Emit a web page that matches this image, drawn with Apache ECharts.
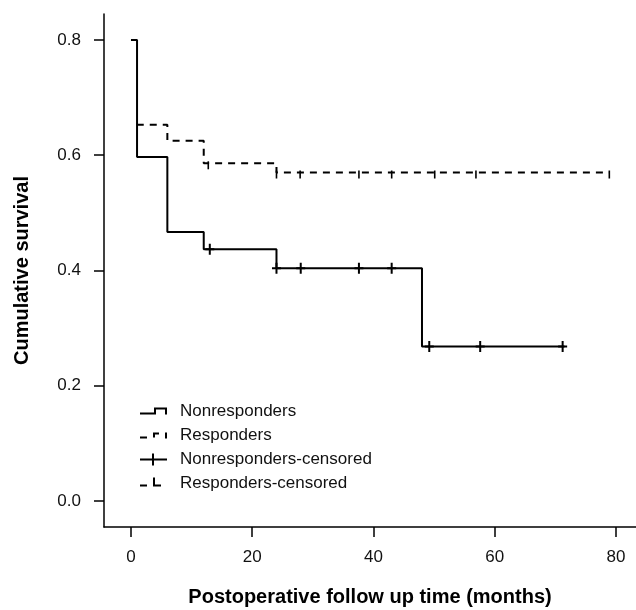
<!DOCTYPE html>
<html><head><meta charset="utf-8">
<script src="https://cdn.jsdelivr.net/npm/echarts@6/dist/echarts.min.js"></script>
<style>html,body{margin:0;padding:0;background:#fff}#c{width:636px;height:610px}</style>
</head><body><div id="c"></div>
<script>
// Kaplan-Meier step points
const nonTime = [0, 1, 6, 12, 24, 48, 71.5];
const nonSurv = [0.8, 0.597, 0.467, 0.437, 0.404, 0.268, 0.268];
const resTime = [0.95, 6, 12, 24, 79];
const resSurv = [0.653, 0.625, 0.586, 0.570, 0.570];
// censored observations
const nonCensTime = [13, 24, 28, 37.6, 43, 49.2, 57.6, 71.2];
const nonCensSurv = [0.437, 0.404, 0.404, 0.404, 0.404, 0.268, 0.268, 0.268];
const resCensTime = [12.75, 24, 27.9, 37.6, 43, 50.1, 56.9, 78.9];
const resCensSurv = [0.586, 0.570, 0.570, 0.570, 0.570, 0.570, 0.570, 0.570];
// axes
const xTicks = [0, 20, 40, 60, 80];
const yTicks = [0, 0.2, 0.4, 0.6, 0.8];
const seriesNames = ['Nonresponders', 'Responders', 'Nonresponders-censored', 'Responders-censored'];
const xTitle = 'Postoperative follow up time (months)';
const yTitle = 'Cumulative survival';

const pair = (t, s) => t.map((v, i) => [v, s[i]]);
const FONT = 'Liberation Sans, Arial, sans-serif';
const PAD = 'M0,0M35,14';
const icons = [
  'path://' + PAD + 'M0,8H14V3H27V10H25V5H16V10H0Z',
  'path://' + PAD + 'M0,8h7v2h-7zM13,4h6v2h-4v3h-2zM25,4h2v6h-2z',
  'path://' + PAD + 'M0,6H27V8H0ZM12,1H14V13H12Z',
  'path://' + PAD + 'M0,8h7v2h-7zM13,1h2v7h6v2h-8z'
];

const chart = echarts.init(document.getElementById('c'), null, {renderer: 'canvas'});
chart.setOption({
  animation: false,
  backgroundColor: '#fff',
  textStyle: {fontFamily: FONT},
  grid: {left: 104, right: 0, top: 14, bottom: 83, containLabel: false, outerBoundsMode: 'none'},
  xAxis: {
    type: 'value', min: -4.45, max: 83.3,
    name: xTitle, nameLocation: 'middle', nameGap: 60,
    nameTextStyle: {fontSize: 20, fontWeight: 'bold', color: '#000', fontFamily: FONT},
    axisLine: {show: true, onZero: false, lineStyle: {color: '#000', width: 1.5}},
    axisTick: {show: true, length: 10, inside: false, customValues: xTicks, lineStyle: {color: '#000', width: 1.5}},
    axisLabel: {customValues: xTicks, margin: 22, fontSize: 17, color: '#111', fontFamily: FONT},
    splitLine: {show: false}
  },
  yAxis: {
    type: 'value', min: -0.045, max: 0.845,
    name: yTitle, nameLocation: 'middle', nameGap: 72, nameRotate: 90,
    nameTextStyle: {fontSize: 20, fontWeight: 'bold', color: '#000', fontFamily: FONT},
    axisLine: {show: true, onZero: false, lineStyle: {color: '#000', width: 1.5}},
    axisTick: {show: true, length: 10, inside: false, customValues: yTicks, lineStyle: {color: '#000', width: 1.5}},
    axisLabel: {customValues: yTicks, margin: 23, fontSize: 17, color: '#111', fontFamily: FONT,
      formatter: v => v.toFixed(1)},
    splitLine: {show: false}
  },
  legend: {
    orient: 'vertical', left: 140, top: 403, padding: 0, itemWidth: 35, itemHeight: 14, itemGap: 7,
    selectedMode: false,
    textStyle: {fontSize: 17, color: '#111', fontFamily: FONT},
    itemStyle: {borderWidth: 0},
    data: seriesNames.map((n, i) => ({name: n, icon: icons[i], itemStyle: {color: '#000', borderWidth: 0}}))
  },
  series: [
    {name: seriesNames[0], type: 'line', step: 'end', data: pair(nonTime, nonSurv),
     symbol: 'none', showSymbol: false, lineStyle: {color: '#000', width: 2}, itemStyle: {color: '#000'}, z: 3},
    {name: seriesNames[1], type: 'line', step: 'end', data: pair(resTime, resSurv),
     symbol: 'none', showSymbol: false, lineStyle: {color: '#000', width: 2, type: [7, 6]}, itemStyle: {color: '#000'}, z: 3},
    {name: seriesNames[2], type: 'scatter', data: pair(nonCensTime, nonCensSurv),
     symbol: 'path://M0,4.5H9V6.5H0ZM3.5,0H5.5V11H3.5Z', symbolSize: [9, 11],
     itemStyle: {color: '#000', borderWidth: 0, opacity: 1}, z: 4},
    {name: seriesNames[3], type: 'scatter', data: pair(resCensTime, resCensSurv),
     symbol: 'path://M0,0H2V9H0Z', symbolSize: [1.6, 8], symbolOffset: [0, 2],
     itemStyle: {color: '#000', borderWidth: 0, opacity: 1}, z: 4}
  ]
});
</script></body></html>
